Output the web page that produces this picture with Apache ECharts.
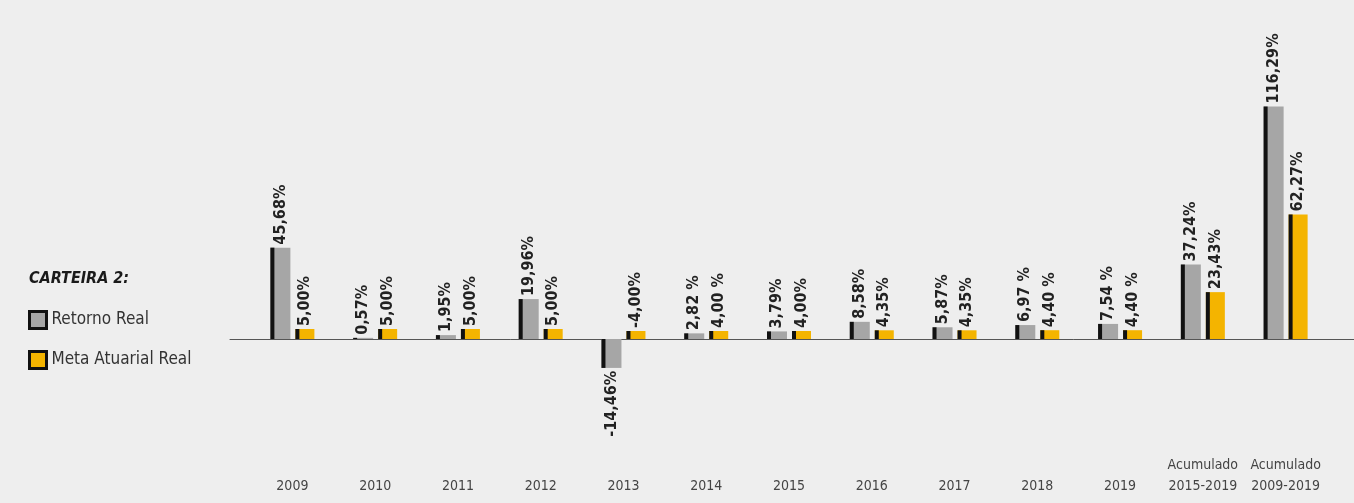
<!DOCTYPE html>
<html>
<head>
<meta charset="utf-8">
<script src="https://cdn.jsdelivr.net/npm/echarts@6/dist/echarts.min.js"></script>
<style>
html,body{margin:0;padding:0;background:#eeeeee;}
#chart{width:1354px;height:503px;}
</style>
</head>
<body>
<div id="chart"></div>
<script>
const categories = ['2009','2010','2011','2012','2013','2014','2015','2016','2017','2018','2019','Acumulado\n2015-2019','Acumulado\n2009-2019'];
const retornoReal = [45.68, 0.57, 1.95, 19.96, -14.46, 2.82, 3.79, 8.58, 5.87, 6.97, 7.54, 37.24, 116.29];
const metaAtuarial = [5.00, 5.00, 5.00, 5.00, 4.00, 4.00, 4.00, 4.35, 4.35, 4.40, 4.40, 23.43, 62.27];
const retornoLabels = ['45,68%','0,57%','1,95%','19,96%','-14,46%','2,82 %','3,79%','8,58%','5,87%','6,97 %','7,54 %','37,24%','116,29%'];
const metaLabels = ['5,00%','5,00%','5,00%','5,00%','-4,00%','4,00 %','4,00%','4,35%','4,35%','4,40 %','4,40 %','23,43%','62,27%'];

const FONT = '"DejaVu Sans Condensed", "Liberation Sans Narrow", sans-serif';
const GRAY = '#a6a6a6', YELLOW = '#f4b400', DARK = '#111111';

function makeRender(labels, fill, off0, off1) {
  return function (params, api) {
    const i = api.value(0);
    const v = api.value(1);
    const p0 = api.coord([i, 0]);
    const p1 = api.coord([i, v]);
    const x0 = p0[0] + off0;
    const w = off1 - off0;
    const yTop = Math.min(p0[1], p1[1]);
    const h = Math.abs(p1[1] - p0[1]);
    const neg = v < 0;
    return {
      type: 'group',
      children: [
        { type: 'rect', shape: { x: x0, y: yTop, width: w, height: h }, style: { fill: fill } },
        { type: 'rect', shape: { x: x0, y: yTop, width: 4, height: h }, style: { fill: DARK } },
        {
          type: 'text',
          x: x0 + w / 2,
          y: neg ? p1[1] + 3 : p1[1] - 3,
          rotation: Math.PI / 2,
          style: {
            text: labels[params.dataIndex],
            align: neg ? 'right' : 'left',
            verticalAlign: 'middle',
            fontFamily: FONT,
            fontWeight: 'bold',
            fontSize: 16,
            fill: '#222222'
          }
        }
      ]
    };
  };
}

const chart = echarts.init(document.getElementById('chart'), null, { renderer: 'canvas' });
const option = {
  backgroundColor: '#eeeeee',
  animation: false,
  title: {
    text: 'CARTEIRA 2:',
    left: 24,
    top: 266,
    textStyle: { fontFamily: FONT, fontSize: 16, fontWeight: 'bold', fontStyle: 'italic', color: '#1a1a1a' }
  },
  legend: {
    orient: 'vertical',
    left: 23,
    top: 305,
    itemWidth: 17,
    itemHeight: 17,
    itemGap: 20,
    icon: 'rect',
    itemStyle: { borderColor: DARK, borderWidth: 3 },
    textStyle: { fontFamily: FONT, fontSize: 17, color: '#333333' },
    data: ['Retorno Real', 'Meta Atuarial Real']
  },
  grid: [
    { left: 251, right: 27, top: 99, bottom: 34 },
    { left: 230, right: 0, top: 99, bottom: 34 }
  ],
  xAxis: [
    {
      type: 'category',
      gridIndex: 0,
      data: categories,
      axisLine: { show: false, onZero: false },
      axisTick: { show: false },
      splitLine: { show: false },
      axisLabel: {
        interval: 0,
        margin: 28,
        verticalAlign: 'bottom',
        lineHeight: 21,
        fontFamily: FONT,
        fontSize: 14,
        color: '#444444'
      }
    },
    {
      type: 'category',
      gridIndex: 1,
      data: [''],
      axisLine: { show: true, onZero: true, lineStyle: { color: '#555555', width: 1 } },
      axisTick: { show: false },
      axisLabel: { show: false }
    }
  ],
  yAxis: [
    { type: 'value', gridIndex: 0, min: -65, max: 120, show: false, splitLine: { show: false } },
    { type: 'value', gridIndex: 1, min: -65, max: 120, show: false, splitLine: { show: false } }
  ],
  series: [
    {
      name: 'Retorno Real',
      type: 'custom',
      xAxisIndex: 0, yAxisIndex: 0,
      itemStyle: { color: GRAY },
      renderItem: makeRender(retornoLabels, GRAY, -22, -2),
      encode: { x: 0, y: 1 },
      data: retornoReal.map((v, i) => [i, v])
    },
    {
      name: 'Meta Atuarial Real',
      type: 'custom',
      xAxisIndex: 0, yAxisIndex: 0,
      itemStyle: { color: YELLOW },
      renderItem: makeRender(metaLabels, YELLOW, 3, 22),
      encode: { x: 0, y: 1 },
      data: metaAtuarial.map((v, i) => [i, v])
    }
  ]
};
chart.setOption(option);
</script>
</body>
</html>
